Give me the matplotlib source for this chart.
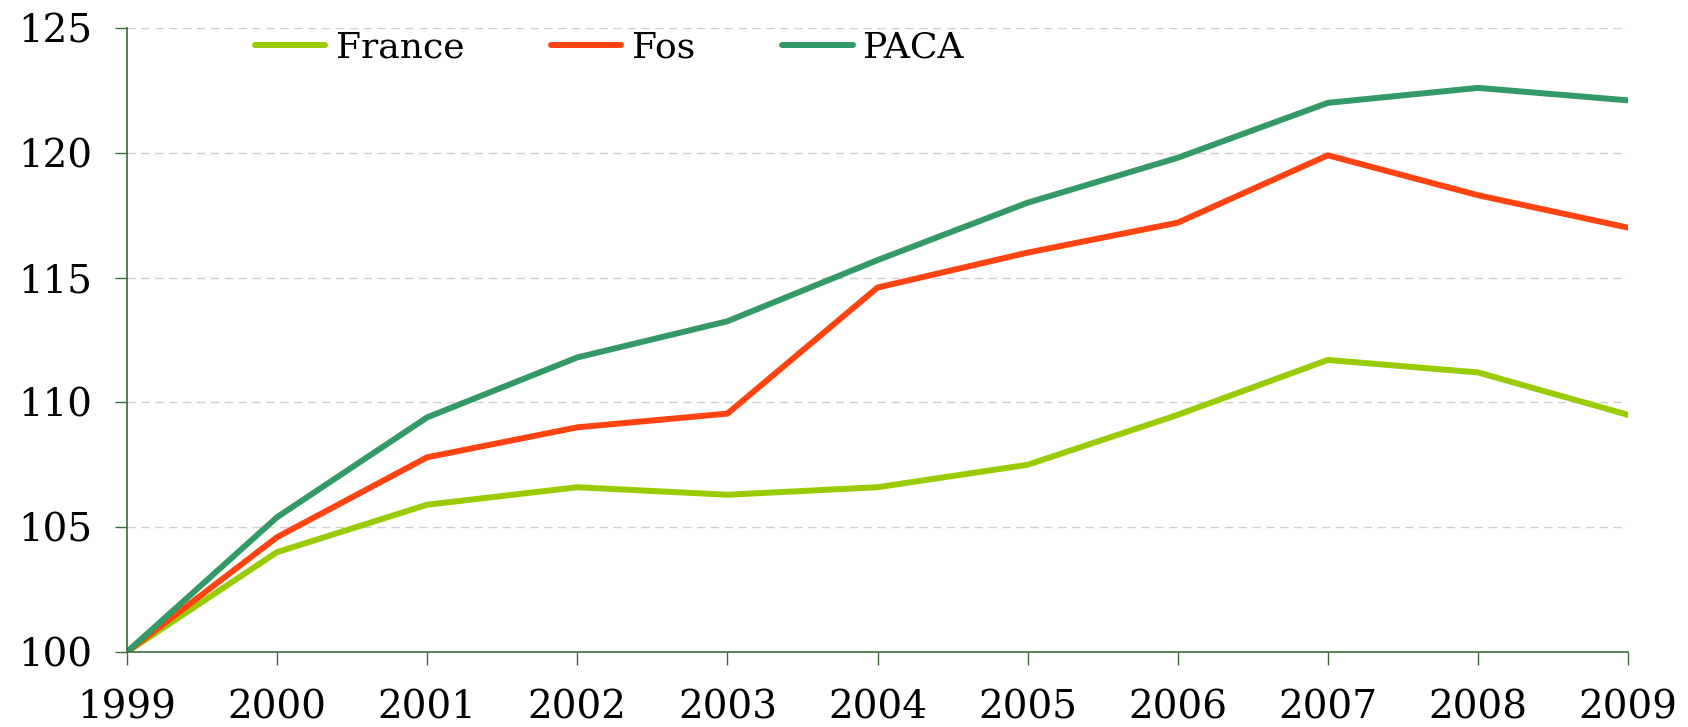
import matplotlib.pyplot as plt

# data (index, 1999 = 100)
years = [1999, 2000, 2001, 2002, 2003, 2004, 2005, 2006, 2007, 2008, 2009]
france = [100, 104.0, 105.9, 106.6, 106.3, 106.6, 107.5, 109.5, 111.7, 111.2, 109.5]
fos = [100, 104.6, 107.8, 109.0, 109.55, 114.6, 116.0, 117.2, 119.9, 118.3, 117.0]
paca = [100, 105.4, 109.4, 111.8, 113.25, 115.7, 118.0, 119.8, 122.0, 122.6, 122.1]
yticks = [100, 105, 110, 115, 120, 125]

plt.rcParams['font.family'] = ['DejaVu Serif']
axis_col = '#3d6b3d'

fig = plt.figure(figsize=(16.88, 7.27), dpi=100)
ax = fig.add_axes([0.0752, 0.1032, 0.8893, 0.8583])

ax.plot(years, france, color='#99cc00', lw=4.3, label='France', solid_capstyle='round')
ax.plot(years, fos, color='#ff4411', lw=4.3, label='Fos', solid_capstyle='round')
ax.plot(years, paca, color='#339966', lw=4.3, label='PACA', solid_capstyle='round')

ax.set_xlim(1999, 2009)
ax.set_ylim(100, 125)
ax.set_xticks(years)
ax.set_yticks(yticks)
ax.grid(axis='y', color='#d0d0d0', linestyle=(0, (6, 4)), lw=1)
ax.set_axisbelow(True)

for s in ['top', 'right']:
    ax.spines[s].set_visible(False)
for s in ['left', 'bottom']:
    ax.spines[s].set_color(axis_col)
    ax.spines[s].set_linewidth(1.2)
ax.tick_params(axis='x', direction='out', length=9, width=1, color=axis_col,
               labelsize=28, pad=18)
ax.tick_params(axis='y', direction='out', length=9, width=1, color=axis_col,
               labelsize=28, pad=16)

leg = ax.legend(loc='center left', bbox_to_anchor=(0.085, 0.968), ncol=3, frameon=False,
                fontsize=26, handlelength=1.95, handletextpad=0.3, columnspacing=2.4,
                borderpad=0, borderaxespad=0)

fig.savefig('out.png', dpi=100)
